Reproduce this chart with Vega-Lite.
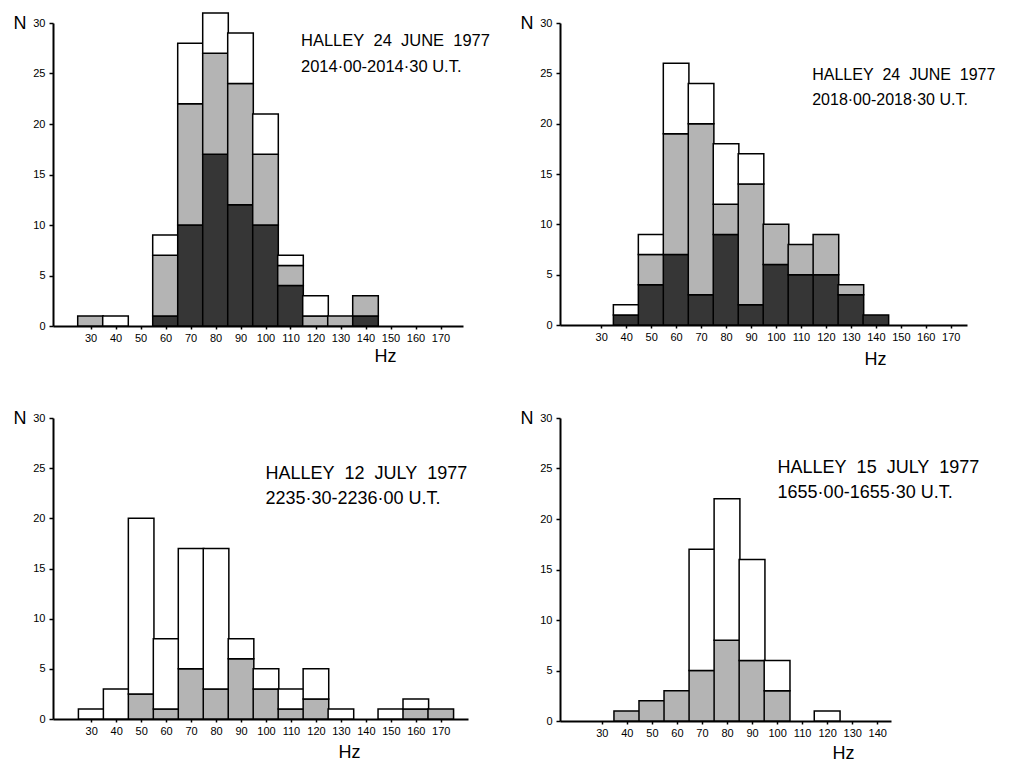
{
  "$schema": "https://vega.github.io/schema/vega-lite/v6.json",
  "background": "white",
  "padding": {"left": 13, "top": 12, "right": 0, "bottom": 0},
  "config": {
    "view": {"stroke": null},
    "font": "Liberation Sans, DejaVu Sans",
    "axis": {
      "grid": false,
      "domainColor": "black",
      "domainWidth": 2,
      "tickColor": "black",
      "tickWidth": 1.5,
      "tickCount": 40,
      "labelColor": "black",
      "labelFontSize": 11,
      "labelOverlap": false,
      "titleColor": "black",
      "titleFontSize": 18,
      "titleFontWeight": "normal"
    },
    "axisX": {"tickSize": 3, "labelPadding": 3, "titleAlign": "center", "titleBaseline": "middle"},
    "axisY": {"tickSize": 4, "labelPadding": 4, "titleAngle": 0, "titleX": -40, "titleY": 0, "titleAlign": "left", "titleBaseline": "middle"}
  },
  "datasets": {
    "p1": [
      {"hz": 30, "part": "hatched", "n": 1},
      {"hz": 40, "part": "open", "n": 1},
      {"hz": 60, "part": "crosshatched", "n": 1},
      {"hz": 60, "part": "hatched", "n": 6},
      {"hz": 60, "part": "open", "n": 2},
      {"hz": 70, "part": "crosshatched", "n": 10},
      {"hz": 70, "part": "hatched", "n": 12},
      {"hz": 70, "part": "open", "n": 6},
      {"hz": 80, "part": "crosshatched", "n": 17},
      {"hz": 80, "part": "hatched", "n": 10},
      {"hz": 80, "part": "open", "n": 4},
      {"hz": 90, "part": "crosshatched", "n": 12},
      {"hz": 90, "part": "hatched", "n": 12},
      {"hz": 90, "part": "open", "n": 5},
      {"hz": 100, "part": "crosshatched", "n": 10},
      {"hz": 100, "part": "hatched", "n": 7},
      {"hz": 100, "part": "open", "n": 4},
      {"hz": 110, "part": "crosshatched", "n": 4},
      {"hz": 110, "part": "hatched", "n": 2},
      {"hz": 110, "part": "open", "n": 1},
      {"hz": 120, "part": "hatched", "n": 1},
      {"hz": 120, "part": "open", "n": 2},
      {"hz": 130, "part": "hatched", "n": 1},
      {"hz": 140, "part": "crosshatched", "n": 1},
      {"hz": 140, "part": "hatched", "n": 2}
    ],
    "p2": [
      {"hz": 40, "part": "crosshatched", "n": 1},
      {"hz": 40, "part": "open", "n": 1},
      {"hz": 50, "part": "crosshatched", "n": 4},
      {"hz": 50, "part": "hatched", "n": 3},
      {"hz": 50, "part": "open", "n": 2},
      {"hz": 60, "part": "crosshatched", "n": 7},
      {"hz": 60, "part": "hatched", "n": 12},
      {"hz": 60, "part": "open", "n": 7},
      {"hz": 70, "part": "crosshatched", "n": 3},
      {"hz": 70, "part": "hatched", "n": 17},
      {"hz": 70, "part": "open", "n": 4},
      {"hz": 80, "part": "crosshatched", "n": 9},
      {"hz": 80, "part": "hatched", "n": 3},
      {"hz": 80, "part": "open", "n": 6},
      {"hz": 90, "part": "crosshatched", "n": 2},
      {"hz": 90, "part": "hatched", "n": 12},
      {"hz": 90, "part": "open", "n": 3},
      {"hz": 100, "part": "crosshatched", "n": 6},
      {"hz": 100, "part": "hatched", "n": 4},
      {"hz": 110, "part": "crosshatched", "n": 5},
      {"hz": 110, "part": "hatched", "n": 3},
      {"hz": 120, "part": "crosshatched", "n": 5},
      {"hz": 120, "part": "hatched", "n": 4},
      {"hz": 130, "part": "crosshatched", "n": 3},
      {"hz": 130, "part": "hatched", "n": 1},
      {"hz": 140, "part": "crosshatched", "n": 1}
    ],
    "p3": [
      {"hz": 30, "part": "open", "n": 1},
      {"hz": 40, "part": "open", "n": 3},
      {"hz": 50, "part": "hatched", "n": 2.5},
      {"hz": 50, "part": "open", "n": 17.5},
      {"hz": 60, "part": "hatched", "n": 1},
      {"hz": 60, "part": "open", "n": 7},
      {"hz": 70, "part": "hatched", "n": 5},
      {"hz": 70, "part": "open", "n": 12},
      {"hz": 80, "part": "hatched", "n": 3},
      {"hz": 80, "part": "open", "n": 14},
      {"hz": 90, "part": "hatched", "n": 6},
      {"hz": 90, "part": "open", "n": 2},
      {"hz": 100, "part": "hatched", "n": 3},
      {"hz": 100, "part": "open", "n": 2},
      {"hz": 110, "part": "hatched", "n": 1},
      {"hz": 110, "part": "open", "n": 2},
      {"hz": 120, "part": "hatched", "n": 2},
      {"hz": 120, "part": "open", "n": 3},
      {"hz": 130, "part": "open", "n": 1},
      {"hz": 150, "part": "open", "n": 1},
      {"hz": 160, "part": "hatched", "n": 1},
      {"hz": 160, "part": "open", "n": 1},
      {"hz": 170, "part": "hatched", "n": 1}
    ],
    "p4": [
      {"hz": 40, "part": "hatched", "n": 1},
      {"hz": 50, "part": "hatched", "n": 2},
      {"hz": 60, "part": "hatched", "n": 3},
      {"hz": 70, "part": "hatched", "n": 5},
      {"hz": 70, "part": "open", "n": 12},
      {"hz": 80, "part": "hatched", "n": 8},
      {"hz": 80, "part": "open", "n": 14},
      {"hz": 90, "part": "hatched", "n": 6},
      {"hz": 90, "part": "open", "n": 10},
      {"hz": 100, "part": "hatched", "n": 3},
      {"hz": 100, "part": "open", "n": 3},
      {"hz": 120, "part": "open", "n": 1}
    ],
    "one": [{}]
  },
  "columns": 2,
  "bounds": "flush",
  "align": "all",
  "spacing": {"row": 92, "column": 92},
  "concat": [
    {
      "width": 410, "height": 303,
      "data": {"name": "p1"},
      "layer": [
        {
          "mark": {"type": "bar", "width": 25.6, "stroke": "black", "strokeWidth": 1.5},
          "encoding": {
            "x": {"field": "hz", "type": "quantitative", "scale": {"domain": [17, 177], "nice": false, "zero": false},
                  "axis": {"values": [30,40,50,60,70,80,90,100,110,120,130,140,150,160,170], "labelOverlap": false, "tickCount": 40, "title": "Hz", "titleX": 332, "titleY": 30}},
            "y": {"field": "n", "type": "quantitative", "stack": "zero", "scale": {"domain": [0, 30], "nice": false},
                  "axis": {"values": [0,5,10,15,20,25,30], "title": "N"}},
            "color": {"field": "part", "type": "nominal", "scale": {"domain": ["crosshatched", "hatched", "open"], "range": ["#363636", "#b4b4b4", "#ffffff"]}, "legend": null},
            "order": {"field": "part", "type": "ordinal", "sort": "ascending"}
          }
        },
        {
          "data": {"name": "one"},
          "mark": {"type": "text", "text": ["HALLEY\u00a0 24\u00a0 JUNE\u00a0 1977", "2014·00-2014·30 U.T."], "align": "left", "baseline": "alphabetic", "fontSize": 16.5, "lineHeight": 26, "color": "black"},
          "encoding": {"x": {"datum": 114.2}, "y": {"datum": 27.7}}
        }
      ]
    },
    {
      "width": 407, "height": 302,
      "data": {"name": "p2"},
      "layer": [
        {
          "mark": {"type": "bar", "width": 25.6, "stroke": "black", "strokeWidth": 1.5},
          "encoding": {
            "x": {"field": "hz", "type": "quantitative", "scale": {"domain": [15.5, 174.5], "nice": false, "zero": false},
                  "axis": {"values": [30,40,50,60,70,80,90,100,110,120,130,140,150,160,170], "labelOverlap": false, "tickCount": 40, "title": "Hz", "titleX": 315, "titleY": 34}},
            "y": {"field": "n", "type": "quantitative", "stack": "zero", "scale": {"domain": [0, 30], "nice": false},
                  "axis": {"values": [0,5,10,15,20,25,30], "title": "N"}},
            "color": {"field": "part", "type": "nominal", "scale": {"domain": ["crosshatched", "hatched", "open"], "range": ["#363636", "#b4b4b4", "#ffffff"]}, "legend": null},
            "order": {"field": "part", "type": "ordinal", "sort": "ascending"}
          }
        },
        {
          "data": {"name": "one"},
          "mark": {"type": "text", "text": ["HALLEY\u00a0 24\u00a0 JUNE\u00a0 1977", "2018·00-2018·30 U.T."], "align": "left", "baseline": "alphabetic", "fontSize": 16, "lineHeight": 25, "color": "black"},
          "encoding": {"x": {"datum": 114.5}, "y": {"datum": 24.3}}
        }
      ]
    },
    {
      "width": 415, "height": 301,
      "data": {"name": "p3"},
      "layer": [
        {
          "mark": {"type": "bar", "width": 25.6, "stroke": "black", "strokeWidth": 1.5},
          "encoding": {
            "x": {"field": "hz", "type": "quantitative", "scale": {"domain": [16.7, 178.9], "nice": false, "zero": false},
                  "axis": {"values": [30,40,50,60,70,80,90,100,110,120,130,140,150,160,170], "labelOverlap": false, "tickCount": 40, "title": "Hz", "titleX": 296, "titleY": 33}},
            "y": {"field": "n", "type": "quantitative", "stack": "zero", "scale": {"domain": [0, 30], "nice": false},
                  "axis": {"values": [0,5,10,15,20,25,30], "title": "N"}},
            "color": {"field": "part", "type": "nominal", "scale": {"domain": ["crosshatched", "hatched", "open"], "range": ["#363636", "#b4b4b4", "#ffffff"]}, "legend": null},
            "order": {"field": "part", "type": "ordinal", "sort": "ascending"}
          }
        },
        {
          "data": {"name": "one"},
          "mark": {"type": "text", "text": ["HALLEY\u00a0 12\u00a0 JULY\u00a0 1977", "2235·30-2236·00 U.T."], "align": "left", "baseline": "alphabetic", "fontSize": 18, "lineHeight": 25, "color": "black"},
          "encoding": {"x": {"datum": 99.8}, "y": {"datum": 23.9}}
        }
      ]
    },
    {
      "width": 331, "height": 303,
      "data": {"name": "p4"},
      "layer": [
        {
          "mark": {"type": "bar", "width": 25.8, "stroke": "black", "strokeWidth": 1.5},
          "encoding": {
            "x": {"field": "hz", "type": "quantitative", "scale": {"domain": [15.3, 143.5], "nice": false, "zero": false},
                  "axis": {"values": [30,40,50,60,70,80,90,100,110,120,130,140], "labelOverlap": false, "tickCount": 40, "title": "Hz", "titleX": 283, "titleY": 32}},
            "y": {"field": "n", "type": "quantitative", "stack": "zero", "scale": {"domain": [0, 30], "nice": false},
                  "axis": {"values": [0,5,10,15,20,25,30], "title": "N"}},
            "color": {"field": "part", "type": "nominal", "scale": {"domain": ["crosshatched", "hatched", "open"], "range": ["#363636", "#b4b4b4", "#ffffff"]}, "legend": null},
            "order": {"field": "part", "type": "ordinal", "sort": "ascending"}
          }
        },
        {
          "data": {"name": "one"},
          "mark": {"type": "text", "text": ["HALLEY\u00a0 15\u00a0 JULY\u00a0 1977", "1655·00-1655·30 U.T."], "align": "left", "baseline": "alphabetic", "fontSize": 18, "lineHeight": 25, "color": "black"},
          "encoding": {"x": {"datum": 100.2}, "y": {"datum": 24.6}}
        }
      ]
    }
  ]
}
